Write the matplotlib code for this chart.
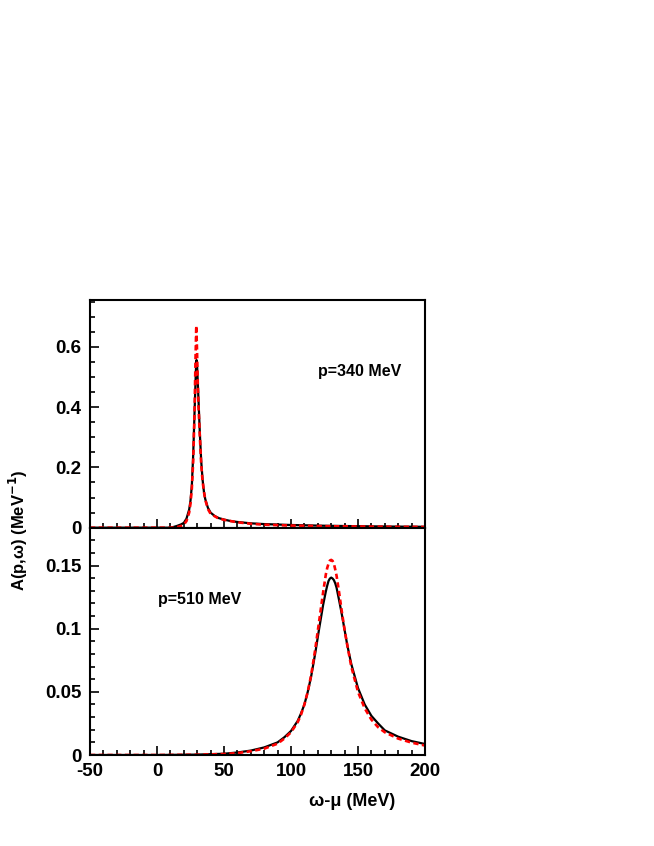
import matplotlib
matplotlib.use("Agg")
import matplotlib.pyplot as plt
from matplotlib.ticker import MultipleLocator

plt.rcParams['font.family'] = ['Liberation Sans', 'DejaVu Sans']
plt.rcParams['font.weight'] = 'bold'

# ---- data: top panel (p = 340 MeV) ----
x_top_black = [-50, 0, 10, 12, 15, 18, 20, 22, 24, 25, 26, 27, 28, 29, 29.5, 30, 31, 32, 33, 34, 35, 36,
               38, 40, 43, 46, 50, 55, 60, 70, 80, 100, 125, 150, 175, 200]
y_top_black = [0, 0, 0.0, 0.002, 0.006, 0.011, 0.016, 0.03, 0.06, 0.09, 0.14, 0.24, 0.38, 0.52, 0.556, 0.53,
               0.42, 0.31, 0.22, 0.16, 0.12, 0.095, 0.066, 0.05, 0.039, 0.032, 0.027, 0.022, 0.019,
               0.0145, 0.012, 0.009, 0.0065, 0.005, 0.0038, 0.003]
x_top_red = [-50, 0, 10, 13, 16, 18, 20, 22, 24, 25, 26, 27, 28, 28.7, 29.3, 29.8, 30.5, 31, 32, 33, 34, 35,
             36, 38, 40, 45, 50, 60, 70, 80, 100, 125, 150, 175, 200]
y_top_red = [0, 0, 0, 0.001, 0.003, 0.006, 0.01, 0.022, 0.05, 0.08, 0.13, 0.22, 0.38, 0.55, 0.67, 0.6, 0.47,
             0.40, 0.30, 0.21, 0.155, 0.12, 0.093, 0.062, 0.046, 0.033, 0.026, 0.018, 0.013, 0.010,
             0.007, 0.005, 0.004, 0.003, 0.0025]

# ---- data: bottom panel (p = 510 MeV) ----
x_bot_black = [-50, 0, 30, 50, 60, 70, 80, 90, 95, 100, 105, 107.5, 110, 112.5, 115, 118, 121, 124, 126,
               127, 128, 129, 130, 131, 132, 133, 134, 136, 138, 140, 142, 145, 150, 155, 160, 165, 170,
               180, 190, 200]
y_bot_black = [0, 0, 0.0003, 0.001, 0.002, 0.0035, 0.006, 0.010, 0.014, 0.019, 0.027, 0.033, 0.040, 0.050,
               0.062, 0.080, 0.100, 0.119, 0.1295, 0.134, 0.1378, 0.1397, 0.1405, 0.1398, 0.1385, 0.136,
               0.1325, 0.122, 0.111, 0.099, 0.087, 0.072, 0.053, 0.040, 0.031, 0.025, 0.0195, 0.0145,
               0.011, 0.0087]
x_bot_red = [-50, 0, 30, 50, 60, 70, 80, 90, 95, 100, 105, 107.5, 110, 112.5, 115, 118, 121, 124, 126,
             127, 128, 129, 130, 131, 132, 133, 134, 136, 138, 140, 142, 145, 150, 155, 160, 165, 170,
             180, 190, 200]
y_bot_red = [0, 0, 0.0002, 0.0008, 0.0015, 0.003, 0.005, 0.009, 0.013, 0.018, 0.026, 0.032, 0.040, 0.050,
             0.063, 0.083, 0.106, 0.129, 0.143, 0.148, 0.1515, 0.154, 0.1545, 0.1538, 0.1515, 0.147,
             0.142, 0.128, 0.113, 0.099, 0.087, 0.070, 0.050, 0.037, 0.028, 0.022, 0.018, 0.013,
             0.0098, 0.0075]

top_label = "p=340 MeV"
bot_label = "p=510 MeV"
xticks = [-50, 0, 50, 100, 150, 200]
yticks_top = [0, 0.2, 0.4, 0.6]
yticks_bot = [0, 0.05, 0.1, 0.15]

W, H = 654, 846
fig = plt.figure(figsize=(W / 100, H / 100), dpi=100)
left = 90 / W
width = 335 / W
ax_top = fig.add_axes([left, 1 - 527.7 / H, width, (527.7 - 300) / H])
ax_bot = fig.add_axes([left, 1 - 755 / H, width, (755 - 527.7) / H])

for ax in (ax_top, ax_bot):
    ax.set_xlim(-50, 200)
    for s in ax.spines.values():
        s.set_linewidth(1.5)
    ax.xaxis.set_major_locator(MultipleLocator(50))
    ax.xaxis.set_minor_locator(MultipleLocator(10))
    ax.tick_params(which='both', direction='in', top=False, right=False, width=1.2)
    ax.tick_params(which='major', length=6.5)
    ax.tick_params(which='minor', length=3.3)
    ax.tick_params(labelsize=13.5, pad=6)

# top
ax_top.plot(x_top_black, y_top_black, color='black', lw=1.6)
ax_top.plot(x_top_red, y_top_red, color='red', lw=1.9, ls=(0, (2, 1.3)))
ax_top.set_ylim(0, 0.755)
ax_top.set_yticks(yticks_top)
ax_top.set_yticklabels(['0', '0.2', '0.4', '0.6'], fontweight='bold')
ax_top.yaxis.set_minor_locator(MultipleLocator(0.05))
ax_top.set_xticklabels([])
ax_top.text(120, 0.517, top_label, fontsize=11.5, fontweight='bold', va='center', ha='left')

# bottom
ax_bot.plot(x_bot_black, y_bot_black, color='black', lw=1.6)
ax_bot.plot(x_bot_red, y_bot_red, color='red', lw=1.9, ls=(0, (2, 1.3)))
ax_bot.set_ylim(0, 0.18)
ax_bot.set_yticks(yticks_bot)
ax_bot.set_yticklabels(['0', '0.05', '0.1', '0.15'], fontweight='bold')
ax_bot.yaxis.set_minor_locator(MultipleLocator(0.01))
ax_bot.set_xticks(xticks)
ax_bot.set_xticklabels([str(v) for v in xticks], fontweight='bold')
ax_bot.text(0.7, 0.123, bot_label, fontsize=11.5, fontweight='bold', va='center', ha='left')

fig.text(352.5 / W, 1 - 801.7 / H, "ω-μ (MeV)", fontsize=13, fontweight='bold', ha='center', va='center')
fig.text(18 / W, 1 - 530 / H, r"A(p,ω) (MeV$^{\mathbf{-1}}$)", fontsize=12, fontweight='bold',
         rotation=90, ha='center', va='center')

fig.savefig("out.png", dpi=100)
